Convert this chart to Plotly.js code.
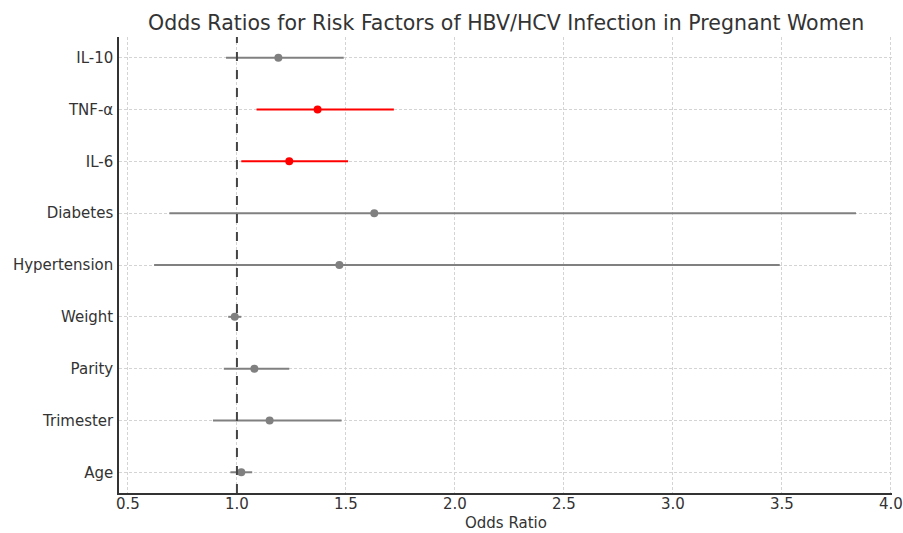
<!DOCTYPE html>
<html>
<head>
<meta charset="utf-8">
<script src="https://cdn.plot.ly/plotly-3.0.1.min.js"></script>
<style>html,body{margin:0;padding:0;background:#fff;}#chart{width:903px;height:533px;}</style>
</head>
<body>
<div id="chart"></div>
<script>
const factors = ["Age", "Trimester", "Parity", "Weight", "Hypertension", "Diabetes", "IL-6", "TNF-α", "IL-10"];
const oddsRatio = [1.02, 1.15, 1.08, 0.99, 1.47, 1.63, 1.24, 1.37, 1.19];
const ciLower = [0.97, 0.89, 0.94, 0.96, 0.62, 0.69, 1.02, 1.09, 0.95];
const ciUpper = [1.07, 1.48, 1.24, 1.02, 3.49, 3.84, 1.51, 1.72, 1.49];
const xTicks = [0.5, 1.0, 1.5, 2.0, 2.5, 3.0, 3.5, 4.0];

function makeTrace(sig, color) {
  const x = [], y = [], plus = [], minus = [];
  factors.forEach((f, i) => {
    if ((ciLower[i] > 1) === sig) {
      x.push(oddsRatio[i]); y.push(i);
      plus.push(ciUpper[i] - oddsRatio[i]);
      minus.push(oddsRatio[i] - ciLower[i]);
    }
  });
  return {
    type: 'scatter', mode: 'markers', x: x, y: y,
    marker: {color: color, size: 8},
    error_x: {type: 'data', symmetric: false, array: plus, arrayminus: minus,
              color: color, thickness: 2, width: 0},
    showlegend: false, hoverinfo: 'x+y'
  };
}

const data = [makeTrace(false, '#808080'), makeTrace(true, '#ff0000')];

const layout = {
  width: 903, height: 533,
  margin: {l: 119, r: 11, t: 37, b: 40},
  paper_bgcolor: '#ffffff', plot_bgcolor: '#ffffff',
  font: {family: 'DejaVu Sans, sans-serif', color: '#333333', size: 15},
  title: {text: 'Odds Ratios for Risk Factors of HBV/HCV Infection in Pregnant Women',
          font: {size: 20.5, color: '#333333'}, x: 0.5605, xanchor: 'center', y: 0.958, yanchor: 'middle'},
  xaxis: {
    range: [0.459, 4.005], tickvals: xTicks, ticktext: xTicks.map(v => v.toFixed(1)),
    showgrid: true, gridcolor: '#d4d4d4', griddash: '3px,2px', gridwidth: 0.8,
    showline: true, linecolor: '#333333', linewidth: 1.5, zeroline: false,
    ticks: '', ticklabelstandoff: -4,
    tickfont: {size: 15, color: '#333333'}
  },
  yaxis: {
    range: [-0.4, 8.4], tickvals: factors.map((f, i) => i), ticktext: factors,
    showgrid: true, gridcolor: '#d4d4d4', griddash: '3px,2px', gridwidth: 0.8,
    showline: true, linecolor: '#333333', linewidth: 1.5, zeroline: false,
    ticks: '', ticklabelstandoff: 1,
    tickfont: {size: 15, color: '#333333'}
  },
  annotations: [{text: 'Odds Ratio', xref: 'paper', yref: 'paper', x: 0.5, y: 0,
                 xanchor: 'center', yanchor: 'middle', yshift: -30, borderpad: 0, showarrow: false,
                 font: {size: 15, color: '#333333'}}],
  shapes: [{type: 'line', xref: 'x', yref: 'paper', x0: 1, x1: 1, y0: 0, y1: 1,
            line: {color: '#444444', width: 2, dash: 'dash'}}]
};

Plotly.newPlot('chart', data, layout, {displayModeBar: false});
</script>
</body>
</html>
